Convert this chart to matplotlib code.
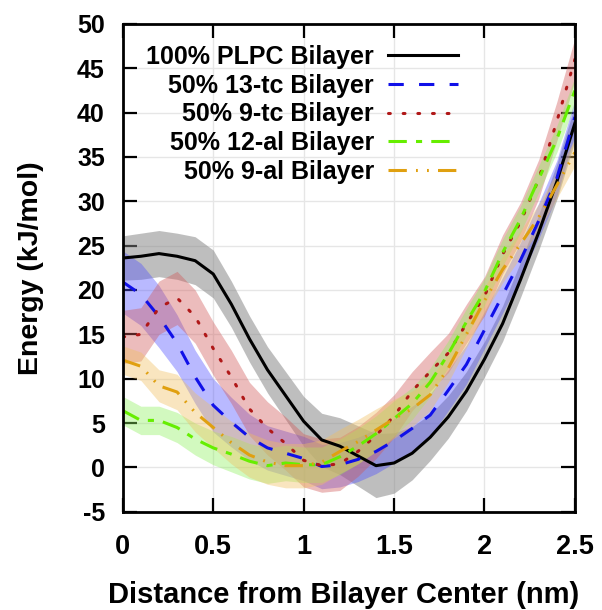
# Free energy profiles across the bilayer
import numpy as np
import matplotlib.pyplot as plt

plt.rcParams['font.family'] = ['Liberation Sans', 'DejaVu Sans']
plt.rcParams['font.weight'] = 'bold'
plt.rcParams['axes.unicode_minus'] = False

# distance from bilayer center (nm)
dist = [0.0, 0.1, 0.2, 0.3, 0.4, 0.5, 0.6, 0.7, 0.8, 0.9, 1.0, 1.1, 1.2,
        1.3, 1.4, 1.5, 1.6, 1.7, 1.8, 1.9, 2.0, 2.1, 2.2, 2.3, 2.4, 2.5]

# energy (kJ/mol) and half width of the error band
plpc = [23.6, 23.8, 24.1, 23.8, 23.3, 21.8, 18.4, 14.5, 11.0, 8.1, 5.2, 3.1, 2.4,
        1.3, 0.2, 0.5, 1.6, 3.4, 5.7, 8.6, 12.2, 16.2, 21.2, 26.5, 32.2, 38.8]
plpc_err = [2.5, 2.6, 2.6, 2.6, 2.7, 2.7, 2.6, 2.6, 2.6, 2.7, 2.8, 3.0, 3.2,
            3.4, 3.6, 3.4, 3.0, 2.6, 2.4, 2.2, 2.0, 2.0, 2.0, 2.0, 2.0, 2.0]

tc13 = [20.9, 19.5, 17.0, 14.0, 10.2, 7.0, 5.1, 3.4, 2.2, 1.6, 1.0, 0.1, 0.3,
        0.9, 1.8, 3.0, 4.4, 5.9, 8.7, 11.6, 15.5, 19.4, 23.4, 27.8, 32.6, 39.5]
tc13_err = [3.5, 3.5, 3.5, 3.2, 3.0, 3.0, 2.8, 2.6, 2.5, 2.5, 2.5, 2.5, 2.5,
            2.5, 2.5, 2.5, 2.5, 2.4, 2.3, 2.2, 2.1, 2.0, 2.0, 2.0, 2.0, 2.0]

tc9 = [14.7, 15.0, 18.0, 19.1, 17.0, 13.4, 10.2, 6.6, 4.4, 2.7, 0.8, 0.2, 0.4,
       1.8, 3.6, 5.8, 8.6, 10.8, 12.9, 16.2, 19.3, 24.0, 27.7, 32.5, 39.0, 46.0]
tc9_err = [3.0, 3.0, 3.0, 3.0, 3.0, 3.0, 3.0, 3.0, 3.0, 3.0, 3.0, 3.0, 3.0,
           2.8, 2.6, 2.4, 2.2, 2.2, 2.2, 2.2, 2.2, 2.2, 2.2, 2.2, 2.2, 2.4]

al12 = [6.4, 5.3, 5.3, 4.5, 3.2, 2.2, 1.5, 0.7, 0.2, 0.5, 0.3, 0.3, 1.2,
        2.4, 3.8, 5.5, 7.2, 9.6, 12.8, 16.4, 19.8, 24.2, 28.0, 32.5, 37.0, 42.5]
al12_err = [1.6, 1.6, 1.6, 1.7, 1.8, 1.9, 2.0, 2.0, 2.0, 2.0, 2.0, 2.0, 2.0,
            2.0, 2.0, 2.0, 1.8, 1.6, 1.5, 1.5, 1.5, 1.5, 1.5, 1.5, 1.5, 1.5]

al9 = [12.1, 11.4, 9.2, 8.5, 6.2, 4.5, 2.8, 1.4, 0.6, 0.2, 0.2, 0.6, 1.8,
       2.9, 4.2, 5.5, 6.6, 8.2, 11.2, 15.0, 18.8, 22.3, 25.2, 28.2, 31.8, 35.5]
al9_err = [1.6, 1.6, 1.8, 2.0, 2.2, 2.3, 2.4, 2.5, 2.5, 2.5, 2.5, 2.5, 2.5,
           2.5, 2.4, 2.2, 2.0, 1.8, 1.6, 1.5, 1.5, 1.5, 1.5, 1.5, 1.5, 1.5]

labels = ['100% PLPC Bilayer', '50% 13-tc Bilayer', '50% 9-tc Bilayer',
          '50% 12-al Bilayer', '50% 9-al Bilayer']

series = [
    # (values, errors, line color, band color, band alpha, linestyle)
    (plpc, plpc_err, 'black', '#7f7f7f', 0.5, '-'),
    (tc13, tc13_err, '#1010e8', '#5050ff', 0.4, (0, (5, 5))),
    (tc9, tc9_err, '#b01818', '#d05858', 0.4, (0, (0.6, 4.2))),
    (al12, al12_err, '#66ee00', '#90f060', 0.4, (0, (6, 3, 2, 3))),
    (al9, al9_err, '#e0a010', '#f0c060', 0.4, (0, (6, 3, 0.6, 3, 0.6, 3))),
]

fig = plt.figure(figsize=(6.02, 6.10), dpi=100)
ax = fig.add_axes([0.204, 0.161, 0.751, 0.800])

x = np.array(dist)
for (y, dy, col, bcol, alpha, ls), lab in zip(series, labels):
    y = np.array(y)
    dy = np.array(dy)
    ax.fill_between(x, y - dy, y + dy, color=bcol, alpha=alpha, lw=0)
for (y, dy, col, bcol, alpha, ls), lab in zip(series, labels):
    ax.plot(x, y, color=col, lw=2.2, ls=ls, label=lab,
            dash_capstyle='round' if lab == labels[2] else 'butt')

ax.set_xlim(0, 2.5)
ax.set_ylim(-5, 50)
ax.set_xticks([0, 0.5, 1, 1.5, 2, 2.5])
ax.set_xticklabels(['0', '0.5', '1', '1.5', '2', '2.5'])
ax.set_yticks(np.arange(-5, 51, 5))
ax.grid(True, color='#e6e6e6', lw=1)
ax.set_axisbelow(True)

ax.tick_params(direction='in', length=10, width=1.6, top=True, right=True)
ax.tick_params(axis='x', labelsize=19.5, pad=16)
ax.tick_params(axis='y', labelsize=18, pad=13)
for sp in ax.spines.values():
    sp.set_linewidth(2)

ax.set_xlabel('Distance from Bilayer Center (nm)', fontsize=21, fontweight='bold')
ax.set_ylabel('Energy (kJ/mol)', fontsize=20.5, fontweight='bold')
ax.xaxis.set_label_coords(0.489, -0.141)
ax.yaxis.set_label_coords(-0.175, 0.5)

leg = ax.legend(loc='upper right', bbox_to_anchor=(0.741, 0.957), frameon=False,
                markerfirst=False, fontsize=18, handlelength=2.8, handletextpad=0.55,
                labelspacing=0.19, borderpad=0, borderaxespad=0)

fig.savefig('out.png', dpi=100)
